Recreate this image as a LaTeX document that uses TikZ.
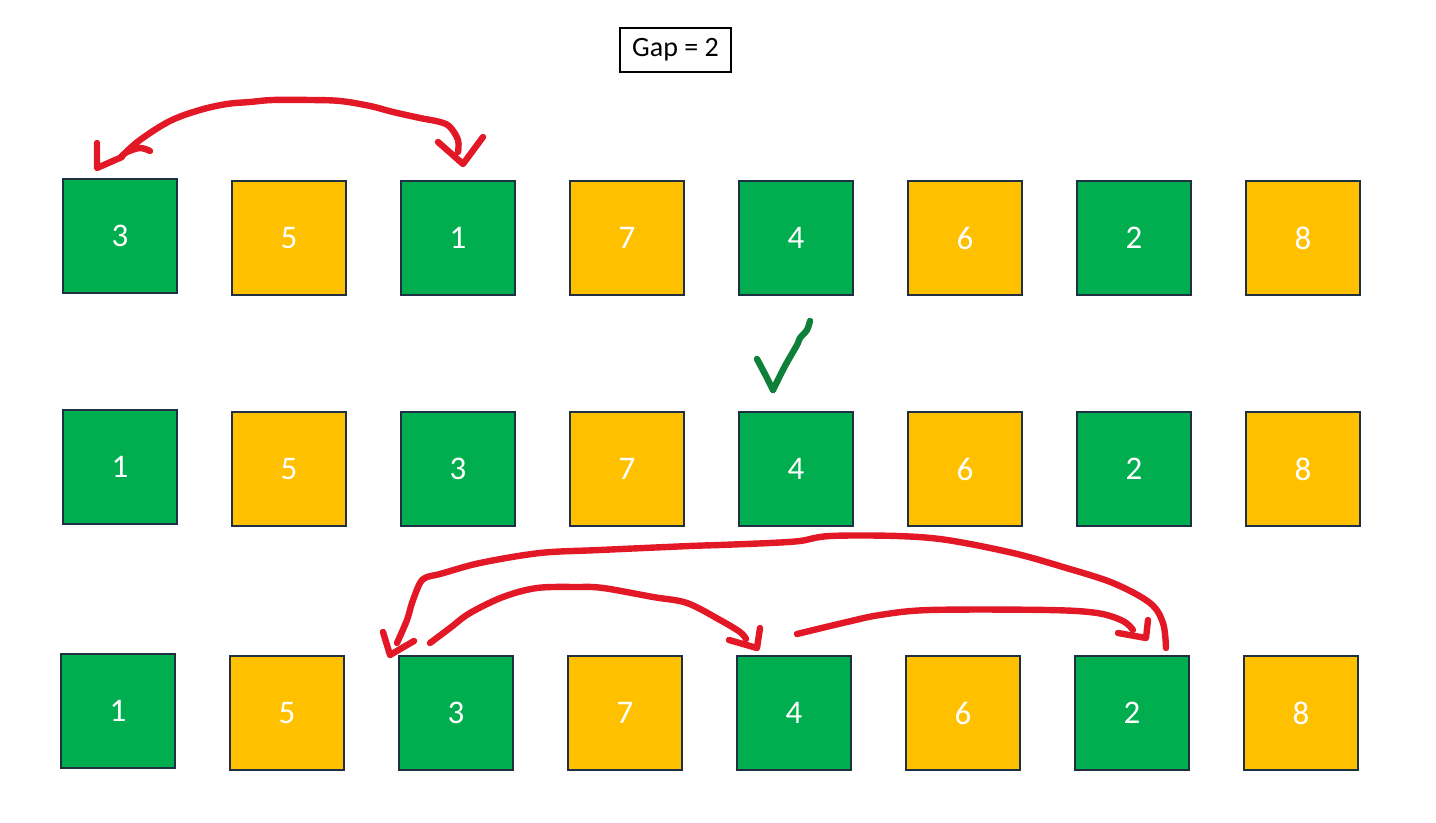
\documentclass[tikz,border=0pt]{standalone}
\usepackage{fontspec}
\setmainfont{Carlito}
\definecolor{boxgreen}{RGB}{0,173,79}
\definecolor{boxyellow}{RGB}{255,192,0}
\definecolor{boxline}{RGB}{30,48,66}
\definecolor{penred}{RGB}{227,24,38}
\definecolor{pengreen}{RGB}{14,128,58}
\tikzset{
  cell/.style={draw=boxline, line width=1pt, minimum size=57pt, inner sep=0pt, text=white, font=\fontsize{16.5}{18}\selectfont},
  gcell/.style={cell, fill=boxgreen},
  ycell/.style={cell, fill=boxyellow},
  pen/.style={draw=penred, line width=3.2pt, line cap=round, line join=round},
  gpen/.style={draw=pengreen, line width=3.2pt, line cap=round, line join=round}
}
\begin{document}
\begin{tikzpicture}[x=0.5pt,y=-0.5pt]
\useasboundingbox (0,0) rectangle (1436,823);
\fill[white] (0,0) rectangle (1436,823);
\node[draw=black, line width=0.6pt, minimum width=55.5pt, minimum height=22pt, inner sep=0pt, font=\fontsize{14}{16}\selectfont] (gap) at (675.5,50) {Gap = 2};
% row 1
\node[gcell] (a1) at (120,236) {3};
\node[ycell] (a2) at (289,238) {5};
\node[gcell] (a3) at (458,238) {1};
\node[ycell] (a4) at (627,238) {7};
\node[gcell] (a5) at (796,238) {4};
\node[ycell] (a6) at (965,238) {6};
\node[gcell] (a7) at (1134,238) {2};
\node[ycell] (a8) at (1303,238) {8};
% row 2
\node[gcell] (b1) at (120,467) {1};
\node[ycell] (b2) at (289,469) {5};
\node[gcell] (b3) at (458,469) {3};
\node[ycell] (b4) at (627,469) {7};
\node[gcell] (b5) at (796,469) {4};
\node[ycell] (b6) at (965,469) {6};
\node[gcell] (b7) at (1134,469) {2};
\node[ycell] (b8) at (1303,469) {8};
% row 3
\node[gcell] (c1) at (118,711) {1};
\node[ycell] (c2) at (287,713) {5};
\node[gcell] (c3) at (456,713) {3};
\node[ycell] (c4) at (625,713) {7};
\node[gcell] (c5) at (794,713) {4};
\node[ycell] (c6) at (963,713) {6};
\node[gcell] (c7) at (1132,713) {2};
\node[ycell] (c8) at (1301,713) {8};
% top swap arrow
\draw[pen] plot[smooth, tension=0.6] coordinates {(150,151) (140,148) (127,152) (122,156) (140,140) (170,121) (200,110) (227,104) (250,102) (273,100) (310,100) (340,101) (370,106) (393,112) (420,118) (440,122) (450,127) (458,140) (458,152)};
\draw[pen] (97,143) -- (97,168) -- (122,157);
\draw[pen] (438,142) -- (463,164) -- (483,137);
% check mark
\draw[gpen] plot[smooth, tension=0.3] coordinates {(757,359) (766,376) (773,390)};
\draw[gpen] plot[smooth, tension=0.5] coordinates {(773,390) (785,366) (797,345) (800,338) (807,330) (810,321)};
% bottom: big arc 2 -> 3
\draw[pen] plot[smooth, tension=0.55] coordinates {(1166,648) (1163,623) (1150,603) (1113,583) (1063,567) (1013,553) (947,540) (897,536) (830,536) (800,541) (770,543) (720,545) (690,546) (600,550) (540,553) (480,563) (440,574) (427,577) (420,583) (412,603) (407,620) (397,643)};
\draw[pen] (383,632) -- (390,655) -- (414,641);
% inner arc 3 -> 4
\draw[pen] plot[smooth, tension=0.55] coordinates {(430,643) (450,628) (470,613) (503,597) (537,588) (577,587) (603,588) (653,597) (687,603) (720,620) (740,632) (746,639)};
\draw[pen] (729,640) -- (757,648) -- (760,628);
% middle arc 4 -> 2
\draw[pen] plot[smooth, tension=0.55] coordinates {(797,634) (847,622) (880,615) (930,610) (1047,610) (1097,613) (1123,621) (1133,630)};
\draw[pen] (1118,633) -- (1146,638) -- (1148,620);
\end{tikzpicture}
\end{document}
